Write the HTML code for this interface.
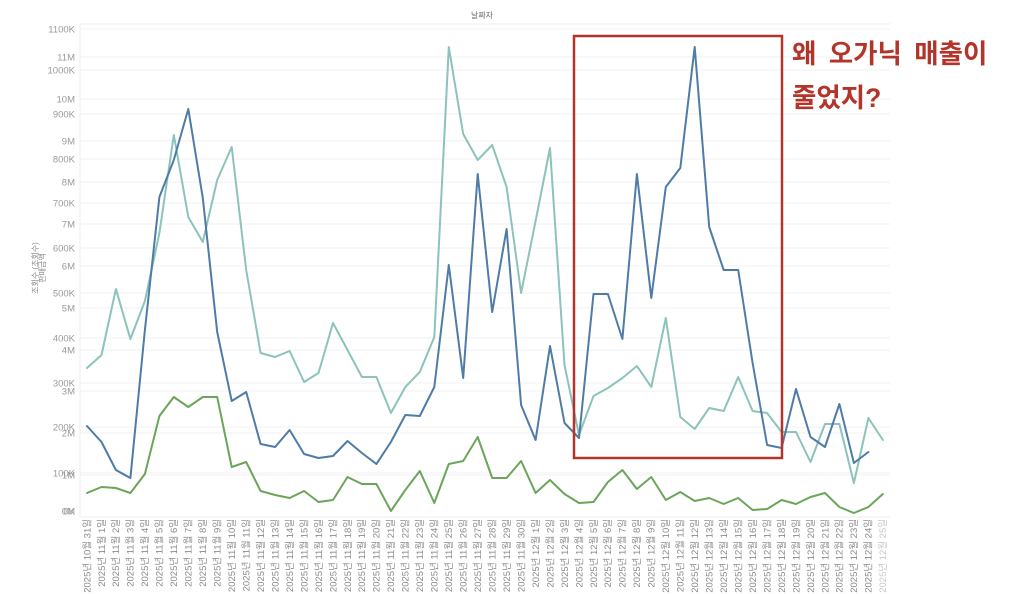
<!DOCTYPE html>
<html><head><meta charset="utf-8"><style>
html,body{margin:0;padding:0;background:#fff;}
svg{display:block;}
text{font-family:"Liberation Sans","Noto Sans CJK KR",sans-serif;}
</style></head><body>
<svg width="1024" height="594" viewBox="0 0 1024 594" xmlns="http://www.w3.org/2000/svg">
<rect width="1024" height="594" fill="#fff"/>
<text x="482" y="18" font-size="8" fill="#666" text-anchor="middle">날짜자</text>
<line x1="80" y1="24" x2="890" y2="24" stroke="#eee" stroke-width="1"/>
<g stroke="#f1f1f1" stroke-width="1">
<line x1="80" y1="29" x2="890" y2="29"/><line x1="80" y1="57" x2="890" y2="57"/><line x1="80" y1="70" x2="890" y2="70"/><line x1="80" y1="99" x2="890" y2="99"/><line x1="80" y1="114" x2="890" y2="114"/><line x1="80" y1="141" x2="890" y2="141"/><line x1="80" y1="159" x2="890" y2="159"/><line x1="80" y1="182" x2="890" y2="182"/><line x1="80" y1="203" x2="890" y2="203"/><line x1="80" y1="224" x2="890" y2="224"/><line x1="80" y1="248" x2="890" y2="248"/><line x1="80" y1="266" x2="890" y2="266"/><line x1="80" y1="293" x2="890" y2="293"/><line x1="80" y1="308" x2="890" y2="308"/><line x1="80" y1="338" x2="890" y2="338"/><line x1="80" y1="350" x2="890" y2="350"/><line x1="80" y1="383" x2="890" y2="383"/><line x1="80" y1="391" x2="890" y2="391"/><line x1="80" y1="427" x2="890" y2="427"/><line x1="80" y1="433" x2="890" y2="433"/><line x1="80" y1="473" x2="890" y2="473"/><line x1="80" y1="475" x2="890" y2="475"/>
</g>
<line x1="80" y1="24" x2="80" y2="517" stroke="#ececec" stroke-width="1"/>
<line x1="80" y1="517" x2="890" y2="517" stroke="#ececec" stroke-width="1"/>
<g font-size="9.5" fill="#9a9a9a" text-anchor="end">
<text x="75" y="32.4">1100K</text><text x="75" y="60.4">11M</text><text x="75" y="73.4">1000K</text><text x="75" y="102.4">10M</text><text x="75" y="117.4">900K</text><text x="75" y="144.4">9M</text><text x="75" y="162.4">800K</text><text x="75" y="185.4">8M</text><text x="75" y="206.4">700K</text><text x="75" y="227.4">7M</text><text x="75" y="251.4">600K</text><text x="75" y="269.4">6M</text><text x="75" y="296.4">500K</text><text x="75" y="311.4">5M</text><text x="75" y="341.4">400K</text><text x="75" y="353.4">4M</text><text x="75" y="386.4">300K</text><text x="75" y="394.4">3M</text><text x="75" y="430.4">200K</text><text x="75" y="436.4">2M</text><text x="75" y="476.4">100K</text><text x="75" y="478.4">1M</text><text x="75" y="514.4">0K</text><text x="75" y="514.4">0M</text>
</g>
<g font-size="8" fill="#888" text-anchor="middle">
<text transform="translate(38,268) rotate(-90)">조회수 (조회수)</text>
<text transform="translate(45,268) rotate(-90)">판매금액</text>
</g>
<g fill="none" stroke-width="2" stroke-linejoin="round" stroke-linecap="round">
<polyline stroke="#8cc3bb" points="87,368 101.5,355 115.9,289 130.4,339 144.9,301 159.4,233 173.8,135 188.3,217 202.8,242 217.2,180 231.7,147 246.2,270 260.6,353 275.1,357 289.6,351 304.1,382 318.5,373 333,323 347.5,350 361.9,377 376.4,377 390.9,413 405.3,387 419.8,372 434.3,337 448.8,47 463.2,134 477.7,160 492.2,145 506.6,187 521.1,293 535.6,221 550,148 564.5,365 579,435 593.5,396 607.9,388 622.4,378 636.9,366 651.3,387 665.8,318 680.3,417 694.7,429 709.2,408 723.7,411 738.2,377 752.6,411 767.1,413 781.6,432 796,432 810.5,462 825,424 839.4,424 853.9,483 868.4,418 882.9,440"/>
<polyline stroke="#6ba55a" points="87,493 101.5,487 115.9,488 130.4,493 144.9,474 159.4,416 173.8,397 188.3,407 202.8,397 217.2,397 231.7,467 246.2,462 260.6,491 275.1,495 289.6,498 304.1,491 318.5,502 333,500 347.5,477 361.9,484 376.4,484 390.9,511 405.3,490 419.8,471 434.3,503 448.8,464 463.2,461 477.7,437 492.2,478 506.6,478 521.1,461 535.6,493 550,480 564.5,494 579,503 593.5,502 607.9,482 622.4,470 636.9,489 651.3,477 665.8,500 680.3,492 694.7,501 709.2,498 723.7,504 738.2,498 752.6,510 767.1,509 781.6,500 796,504 810.5,497 825,493 839.4,507 853.9,513 868.4,507 882.9,494"/>
<polyline stroke="#4f7ba7" points="87,426 101.5,442 115.9,470 130.4,478 144.9,330 159.4,197 173.8,160 188.3,109 202.8,198 217.2,332 231.7,401 246.2,392 260.6,444 275.1,447 289.6,430 304.1,454 318.5,458 333,456 347.5,441 361.9,453 376.4,464 390.9,442 405.3,415 419.8,416 434.3,387 448.8,265 463.2,378 477.7,174 492.2,312 506.6,229 521.1,405 535.6,440 550,346 564.5,423 579,438 593.5,294 607.9,294 622.4,339 636.9,174 651.3,298 665.8,187 680.3,168 694.7,47 709.2,227 723.7,270 738.2,270 752.6,363 767.1,445 781.6,448 796,389 810.5,437 825,447 839.4,404 853.9,463 868.4,452"/>
</g>
<rect x="574" y="36" width="208" height="422" fill="none" stroke="#b3342a" stroke-width="2.5"/>
<g font-size="26.5" font-weight="bold" fill="#b3342a" word-spacing="5">
<text x="792" y="63">왜 오가닉 매출이</text>
<text x="792" y="107">줄었지?</text>
</g>
<g font-size="9.5" fill="#8c8c8c" text-anchor="end">
<text transform="translate(90.3,519) rotate(-90)">2025년 10월 31일</text>
<text transform="translate(104.8,519) rotate(-90)">2025년 11월 1일</text>
<text transform="translate(119.2,519) rotate(-90)">2025년 11월 2일</text>
<text transform="translate(133.7,519) rotate(-90)">2025년 11월 3일</text>
<text transform="translate(148.2,519) rotate(-90)">2025년 11월 4일</text>
<text transform="translate(162.7,519) rotate(-90)">2025년 11월 5일</text>
<text transform="translate(177.1,519) rotate(-90)">2025년 11월 6일</text>
<text transform="translate(191.6,519) rotate(-90)">2025년 11월 7일</text>
<text transform="translate(206.1,519) rotate(-90)">2025년 11월 8일</text>
<text transform="translate(220.5,519) rotate(-90)">2025년 11월 9일</text>
<text transform="translate(235,519) rotate(-90)">2025년 11월 10일</text>
<text transform="translate(249.5,519) rotate(-90)">2025년 11월 11일</text>
<text transform="translate(263.9,519) rotate(-90)">2025년 11월 12일</text>
<text transform="translate(278.4,519) rotate(-90)">2025년 11월 13일</text>
<text transform="translate(292.9,519) rotate(-90)">2025년 11월 14일</text>
<text transform="translate(307.4,519) rotate(-90)">2025년 11월 15일</text>
<text transform="translate(321.8,519) rotate(-90)">2025년 11월 16일</text>
<text transform="translate(336.3,519) rotate(-90)">2025년 11월 17일</text>
<text transform="translate(350.8,519) rotate(-90)">2025년 11월 18일</text>
<text transform="translate(365.2,519) rotate(-90)">2025년 11월 19일</text>
<text transform="translate(379.7,519) rotate(-90)">2025년 11월 20일</text>
<text transform="translate(394.2,519) rotate(-90)">2025년 11월 21일</text>
<text transform="translate(408.6,519) rotate(-90)">2025년 11월 22일</text>
<text transform="translate(423.1,519) rotate(-90)">2025년 11월 23일</text>
<text transform="translate(437.6,519) rotate(-90)">2025년 11월 24일</text>
<text transform="translate(452.1,519) rotate(-90)">2025년 11월 25일</text>
<text transform="translate(466.5,519) rotate(-90)">2025년 11월 26일</text>
<text transform="translate(481,519) rotate(-90)">2025년 11월 27일</text>
<text transform="translate(495.5,519) rotate(-90)">2025년 11월 28일</text>
<text transform="translate(509.9,519) rotate(-90)">2025년 11월 29일</text>
<text transform="translate(524.4,519) rotate(-90)">2025년 11월 30일</text>
<text transform="translate(538.9,519) rotate(-90)">2025년 12월 1일</text>
<text transform="translate(553.3,519) rotate(-90)">2025년 12월 2일</text>
<text transform="translate(567.8,519) rotate(-90)">2025년 12월 3일</text>
<text transform="translate(582.3,519) rotate(-90)">2025년 12월 4일</text>
<text transform="translate(596.8,519) rotate(-90)">2025년 12월 5일</text>
<text transform="translate(611.2,519) rotate(-90)">2025년 12월 6일</text>
<text transform="translate(625.7,519) rotate(-90)">2025년 12월 7일</text>
<text transform="translate(640.2,519) rotate(-90)">2025년 12월 8일</text>
<text transform="translate(654.6,519) rotate(-90)">2025년 12월 9일</text>
<text transform="translate(669.1,519) rotate(-90)">2025년 12월 10일</text>
<text transform="translate(683.6,519) rotate(-90)">2025년 12월 11일</text>
<text transform="translate(698,519) rotate(-90)">2025년 12월 12일</text>
<text transform="translate(712.5,519) rotate(-90)">2025년 12월 13일</text>
<text transform="translate(727,519) rotate(-90)">2025년 12월 14일</text>
<text transform="translate(741.5,519) rotate(-90)">2025년 12월 15일</text>
<text transform="translate(755.9,519) rotate(-90)">2025년 12월 16일</text>
<text transform="translate(770.4,519) rotate(-90)">2025년 12월 17일</text>
<text transform="translate(784.9,519) rotate(-90)">2025년 12월 18일</text>
<text transform="translate(799.3,519) rotate(-90)">2025년 12월 19일</text>
<text transform="translate(813.8,519) rotate(-90)">2025년 12월 20일</text>
<text transform="translate(828.3,519) rotate(-90)">2025년 12월 21일</text>
<text transform="translate(842.7,519) rotate(-90)">2025년 12월 22일</text>
<text transform="translate(857.2,519) rotate(-90)">2025년 12월 23일</text>
<text transform="translate(871.7,519) rotate(-90)">2025년 12월 24일</text>
<text transform="translate(886.2,519) rotate(-90)" fill="#c8c8c8">2025년 12월 25일</text>
</g>
</svg>
</body></html>
